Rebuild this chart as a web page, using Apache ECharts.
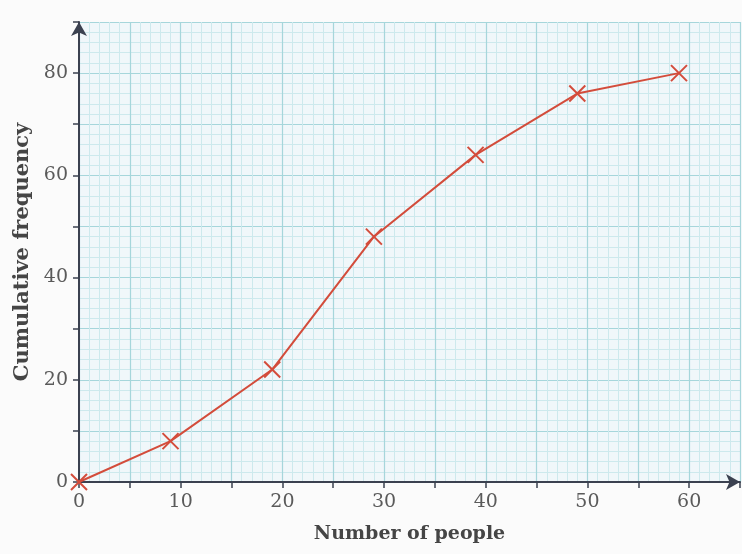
<!DOCTYPE html>
<html>
<head>
<meta charset="utf-8">
<script src="https://cdn.jsdelivr.net/npm/echarts@6/dist/echarts.min.js"></script>
<style>
html,body{margin:0;padding:0;background:#fbfbfb;}
#c{width:742px;height:554px;}
</style>
</head>
<body>
<div id="c"></div>
<script>
const numberOfPeople = [0, 9, 19, 29, 39, 49, 59];
const cumulativeFrequency = [0, 8, 22, 48, 64, 76, 80];
const xTickLabels = [0, 10, 20, 30, 40, 50, 60];
const yTickLabels = [0, 20, 40, 60, 80];

const chart = echarts.init(document.getElementById('c'), null, {renderer: 'canvas'});
const serif = '"DejaVu Serif", "Liberation Serif", serif';
const axisColor = '#3b4150';
chart.setOption({
  backgroundColor: '#fbfbfb',
  animation: false,
  grid: {
    left: 79, top: 22, width: 661, height: 460,
    outerBoundsMode: 'none', containLabel: false,
    show: true, backgroundColor: '#f0f7fa', borderWidth: 0
  },
  xAxis: {
    type: 'value', min: 0, max: 65, interval: 5,
    name: 'Number of people', nameLocation: 'middle', nameGap: 43,
    nameTextStyle: {fontFamily: serif, fontWeight: 'bold', fontSize: 19, color: '#454545'},
    axisLine: {show: true, symbol: ['none', 'arrow'], symbolSize: [12, 14], symbolOffset: [0, 0],
      lineStyle: {color: axisColor, width: 2}},
    axisTick: {show: true, inside: false, length: 6, lineStyle: {color: axisColor, width: 1.5}},
    axisLabel: {
      fontFamily: serif, fontSize: 19, color: '#5a5a5a', margin: 11,
      formatter: v => xTickLabels.includes(v) ? String(v) : ''
    },
    splitLine: {show: true, lineStyle: {color: '#a6d6db', width: 1.2}},
    minorTick: {show: false, splitNumber: 5},
    minorSplitLine: {show: true, lineStyle: {color: '#cde9ed', width: 1}}
  },
  yAxis: {
    type: 'value', min: 0, max: 90, interval: 10,
    name: 'Cumulative frequency', nameLocation: 'middle', nameGap: 46, nameRotate: 90,
    nameTextStyle: {fontFamily: serif, fontWeight: 'bold', fontSize: 21, color: '#454545'},
    axisLine: {show: true, symbol: ['none', 'arrow'], symbolSize: [12, 14], symbolOffset: [0, 0],
      lineStyle: {color: axisColor, width: 2}},
    axisTick: {show: true, inside: false, length: 6, lineStyle: {color: axisColor, width: 1.5}},
    axisLabel: {
      fontFamily: serif, fontSize: 19, color: '#5a5a5a', margin: 11,
      formatter: v => yTickLabels.includes(v) ? String(v) : ''
    },
    splitLine: {show: true, lineStyle: {color: '#a6d6db', width: 1.2}},
    minorTick: {show: false, splitNumber: 5},
    minorSplitLine: {show: true, lineStyle: {color: '#cde9ed', width: 1}}
  },
  series: [{
    type: 'line',
    data: numberOfPeople.map((x, i) => [x, cumulativeFrequency[i]]),
    lineStyle: {color: '#d34c3b', width: 2},
    symbol: 'path://M0,0L10,10M10,0L0,10',
    symbolSize: 16,
    itemStyle: {color: 'none', borderColor: '#d34c3b', borderWidth: 2},
    showSymbol: true,
    z: 5
  }]
});
</script>
</body>
</html>
